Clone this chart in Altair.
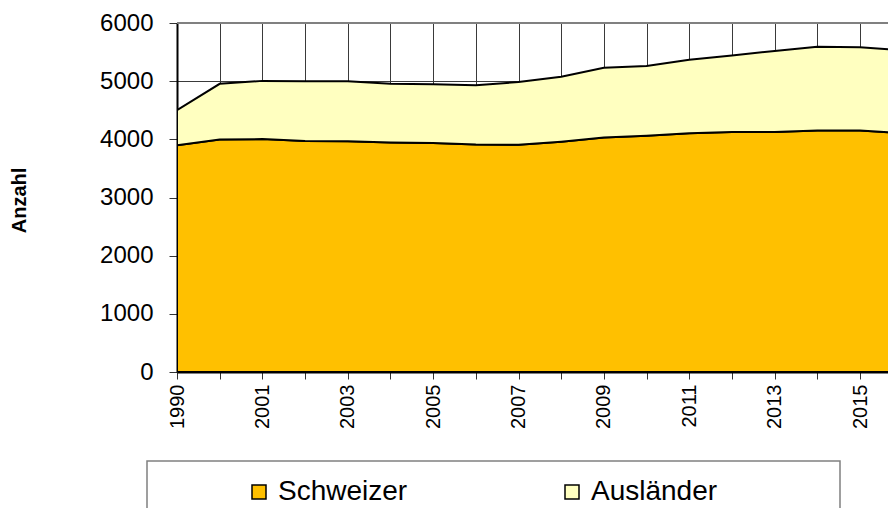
import json
import altair as alt
import pandas as pd

years = ['1990', '2000', '2001', '2002', '2003', '2004', '2005', '2006', '2007',
         '2008', '2009', '2010', '2011', '2012', '2013', '2014', '2015', '2016']
schweizer = [3900, 3995, 4005, 3970, 3965, 3945, 3935, 3910, 3905,
             3960, 4030, 4060, 4105, 4125, 4125, 4150, 4150, 4110]
auslaender = [600, 960, 1000, 1030, 1035, 1010, 1010, 1020, 1080,
              1115, 1200, 1200, 1265, 1315, 1395, 1440, 1435, 1420]
series = ['Schweizer', 'Ausländer']
colors = ['#FFC000', '#FFFFC0']

rows = []
for i, y in enumerate(years):
    rows.append({'idx': i, 'Jahr': y, 'Gruppe': series[0], 'ord': 0, 'Anzahl': schweizer[i]})
    rows.append({'idx': i, 'Jahr': y, 'Gruppe': series[1], 'ord': 1, 'Anzahl': auslaender[i]})
df = pd.DataFrame(rows)

FONT = 'Liberation Sans'
W, H = 711, 349
step = (860 - 177) / 16.0
xmax = W / step

label_expr = "datum.value % 2 == 0 ? " + json.dumps(years) + "[datum.value] : ''"

areas = alt.Chart(df).mark_area(stroke='black', strokeWidth=2, clip=True).encode(
    x=alt.X('idx:Q',
            scale=alt.Scale(domain=[0, xmax], nice=False, zero=False),
            axis=alt.Axis(values=list(range(len(years))), labelExpr=label_expr,
                          labelAngle=270, labelAlign='right', labelBaseline='middle',
                          labelFontSize=20, labelFont=FONT, labelColor='black',
                          labelPadding=5, tickSize=7, tickColor='#333333',
                          domainColor='black', domainWidth=2,
                          grid=True, gridColor='#3a3a3a', gridWidth=1,
                          title=None, labelOverlap=False, labelFlush=False)),
    y=alt.Y('Anzahl:Q', stack='zero',
            scale=alt.Scale(domain=[0, 6000], nice=False),
            axis=alt.Axis(values=[0, 1000, 2000, 3000, 4000, 5000, 6000], format='d',
                          labelFontSize=24, labelFont=FONT, labelColor='black',
                          labelPadding=16, tickSize=8, tickColor='#333333',
                          domainColor='black', domainWidth=2,
                          grid=True, gridColor='#3a3a3a', gridWidth=1,
                          title='Anzahl', titleFont=FONT, titleFontSize=20,
                          titleFontWeight='bold', titleColor='black',
                          titleAngle=270, titleX=-158, titleY=177,
                          titleAlign='center', titleBaseline='middle',
                          titleLimit=300)),
    color=alt.Color('Gruppe:N',
                    scale=alt.Scale(domain=series, range=colors),
                    legend=alt.Legend(title=None, orient='none', direction='horizontal',
                                      legendX=68, legendY=455,
                                      symbolType='square', symbolSize=196,
                                      symbolStrokeColor='black', symbolStrokeWidth=1.5,
                                      symbolOpacity=1,
                                      labelFontSize=28, labelFont=FONT, labelColor='black',
                                      labelOffset=5, columnPadding=150, padding=0,
                                      labelLimit=400)),
    order=alt.Order('ord:Q', sort='ascending'),
)

frame_df = pd.DataFrame({'top': [6000]})
top_border = alt.Chart(frame_df).mark_rule(color='#808080', strokeWidth=2).encode(
    y=alt.Y('top:Q')
)

box_df = pd.DataFrame({'k': [0]})
legend_box = alt.Chart(box_df).mark_rect(fill='white', fillOpacity=0, stroke='#808080',
                                         strokeWidth=1.5).encode(
    x=alt.value(-30), x2=alt.value(663), y=alt.value(438), y2=alt.value(620)
)

chart = alt.layer(legend_box, areas, top_border).properties(
    width=W, height=H,
    autosize=alt.AutoSizeParams(type='none'),
    padding={'left': 169, 'top': 15, 'right': 0, 'bottom': 136},
    background='white',
).configure_view(stroke=None)

chart.save("out.html", embed_options={"renderer": "svg", "actions": False})
